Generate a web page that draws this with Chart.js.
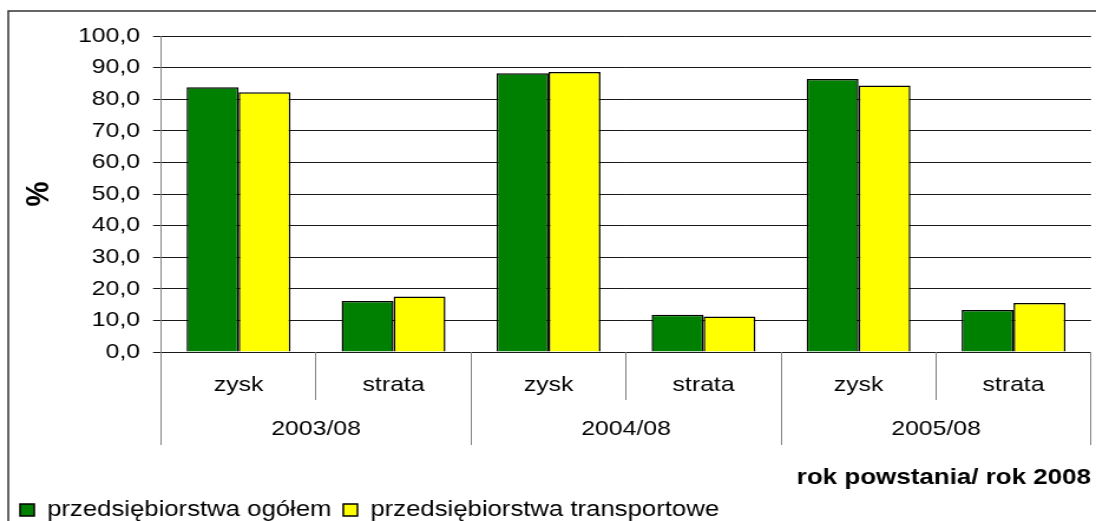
<!DOCTYPE html>
<html>
<head>
<meta charset="utf-8">
<script src="https://cdn.jsdelivr.net/npm/chart.js@4/dist/chart.umd.min.js"></script>
<style>
  html, body { margin: 0; padding: 0; background: #fff; overflow: hidden; }
  #wrap { position: absolute; left: 0; top: 0; width: 929px; height: 521px;
          transform: scaleX(1.17976); transform-origin: 0 0; }
</style>
</head>
<body>
<div id="wrap"><canvas id="c"></canvas></div>
<script>
// ---- data ----
const subCategories = ['zysk', 'strata', 'zysk', 'strata', 'zysk', 'strata'];
const groupCategories = ['2003/08', '2004/08', '2005/08'];
const seriesNames = ['przedsiębiorstwa ogółem', 'przedsiębiorstwa transportowe'];
const ogolem = [83.8, 16.1, 88.2, 11.8, 86.4, 13.3];
const transportowe = [82.2, 17.6, 88.6, 11.2, 84.3, 15.5];
const yTickLabels = ['0,0', '10,0', '20,0', '30,0', '40,0', '50,0', '60,0', '70,0', '80,0', '90,0', '100,0'];
const yTitle = '%';
const xTitle = 'rok powstania/ rok 2008';

const FONT = "'Liberation Sans', Arial, sans-serif";
Chart.defaults.color = '#000';
Chart.defaults.font.family = FONT;

const frame = {
  id: 'frame',
  beforeDraw(chart) {
    const ctx = chart.ctx;
    ctx.save();
    ctx.strokeStyle = '#333';
    ctx.lineWidth = 1.5;
    ctx.beginPath();
    ctx.moveTo(7, 530);
    ctx.lineTo(7, 11);
    ctx.lineTo(940, 11);
    ctx.stroke();
    ctx.restore();
  }
};

new Chart(document.getElementById('c'), {
  type: 'bar',
  data: {
    labels: subCategories,
    datasets: [
      { label: seriesNames[0], data: ogolem, backgroundColor: '#008000', borderColor: '#000', borderWidth: 1.5 },
      { label: seriesNames[1], data: transportowe, backgroundColor: '#FFFF00', borderColor: '#000', borderWidth: 1.5 }
    ]
  },
  options: {
    responsive: true,
    maintainAspectRatio: false,
    animation: false,
    events: [],
    layout: { padding: { left: 7, right: 4.2, top: 36, bottom: -9.9 } },
    datasets: { bar: { categoryPercentage: 0.67, barPercentage: 1.0 } },
    plugins: {
      tooltip: { enabled: false },
      legend: {
        position: 'bottom',
        align: 'start',
        labels: {
          font: { size: 21.8, family: FONT },
          color: '#000',
          boxWidth: 12,
          boxHeight: 12,
          padding: 10
        }
      }
    },
    scales: {
      y: {
        min: 0, max: 100,
        ticks: {
          stepSize: 10,
          padding: 11,
          font: { size: 21, family: FONT },
          color: '#000',
          callback: (v, i) => yTickLabels[i]
        },
        grid: { color: '#1a1a1a', lineWidth: 1, tickLength: 6.8, tickColor: '#1a1a1a' },
        border: { display: true, color: '#808080', width: 1 },
        title: {
          display: true, text: yTitle,
          font: { size: 28, weight: 'bold', family: FONT },
          color: '#000',
          padding: { top: 9.2, bottom: 0 }
        },
        afterFit(scale) { scale.width = 129.5; }
      },
      x: {
        type: 'category',
        offset: true,
        ticks: { padding: -27.6, font: { size: 21, family: FONT }, color: '#000', maxRotation: 0, autoSkip: false },
        grid: { offset: true, drawOnChartArea: false, drawTicks: true, tickLength: 48, color: '#808080', lineWidth: 1 },
        border: { display: false },
        afterFit(scale) { scale.height = 48; }
      },
      x2: {
        type: 'category',
        position: 'bottom',
        labels: groupCategories,
        offset: true,
        ticks: { padding: -28.6, font: { size: 21, family: FONT }, color: '#000', maxRotation: 0, autoSkip: false },
        grid: { offset: true, drawOnChartArea: false, drawTicks: true, tickLength: 45, color: '#808080', lineWidth: 1 },
        border: { display: false },
        title: {
          display: true, text: xTitle, align: 'end',
          font: { size: 22, weight: 'bold', family: FONT },
          color: '#000',
          padding: { top: 0, bottom: -2.1 }
        },
        afterFit(scale) { scale.height = 89.1; }
      }
    }
  },
  plugins: [frame]
});
</script>
</body>
</html>
